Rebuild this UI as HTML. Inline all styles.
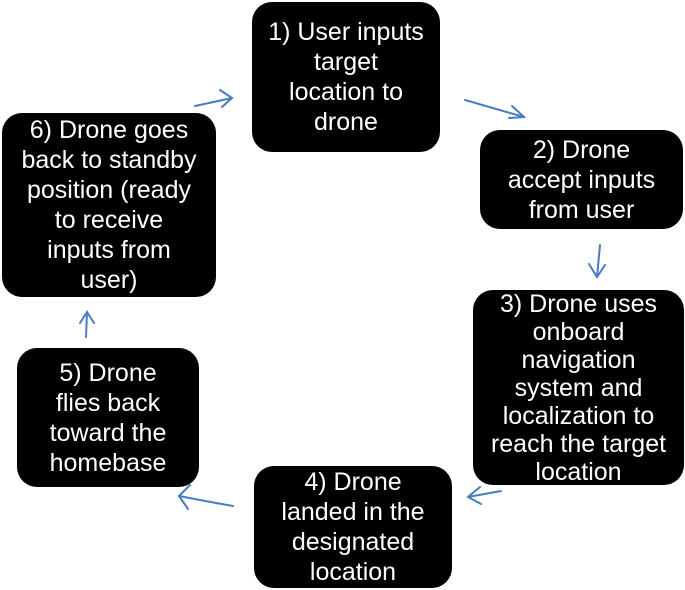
<!DOCTYPE html>
<html><head><style>
body{margin:0;width:685px;height:590px;background:#fff;position:relative;overflow:hidden;font-family:"Liberation Sans",sans-serif;}
.b{position:absolute;background:#000;color:#fff;border-radius:20px;display:flex;align-items:center;justify-content:center;text-align:center;font-size:25px;line-height:30px;letter-spacing:0;}
svg{position:absolute;left:0;top:0}
</style></head><body>
<div class="b" style="left:252px;top:2px;width:188px;height:150px">1) User inputs<br>target<br>location to<br>drone</div>
<div class="b" style="left:480px;top:130px;width:203px;height:99px">2) Drone<br>accept inputs<br>from user</div>
<div class="b" style="left:473px;top:290px;width:211px;height:195px;line-height:28px">3) Drone uses<br>onboard<br>navigation<br>system and<br>localization to<br>reach the target<br>location</div>
<div class="b" style="left:254px;top:466px;width:198px;height:122px">4) Drone<br>landed in the<br>designated<br>location</div>
<div class="b" style="left:17px;top:348px;width:182px;height:139px">5) Drone<br>flies back<br>toward the<br>homebase</div>
<div class="b" style="left:2px;top:113px;width:214px;height:184px">6) Drone goes<br>back to standby<br>position (ready<br>to receive<br>inputs from<br>user)</div>
<svg width="685" height="590" fill="none" stroke="#4a7cc0" stroke-width="2" stroke-linecap="round">
<path d="M195 106 L232 98 M220 90 L232 98 L222 107"/>
<path d="M465 100 L524 117 M512 106 L524 117 L509 118"/>
<path d="M600 245 L597 277 M589 264 L597 277 L605 265"/>
<path d="M501 491 L468 497 M480 487 L468 497 L481 504"/>
<path d="M233 506 Q210 502 179 496 M190 485 L179 496 L188 509"/>
<path d="M86 337 L87 312 M80 323 L87 312 L94 323"/>
</svg>
</body></html>
